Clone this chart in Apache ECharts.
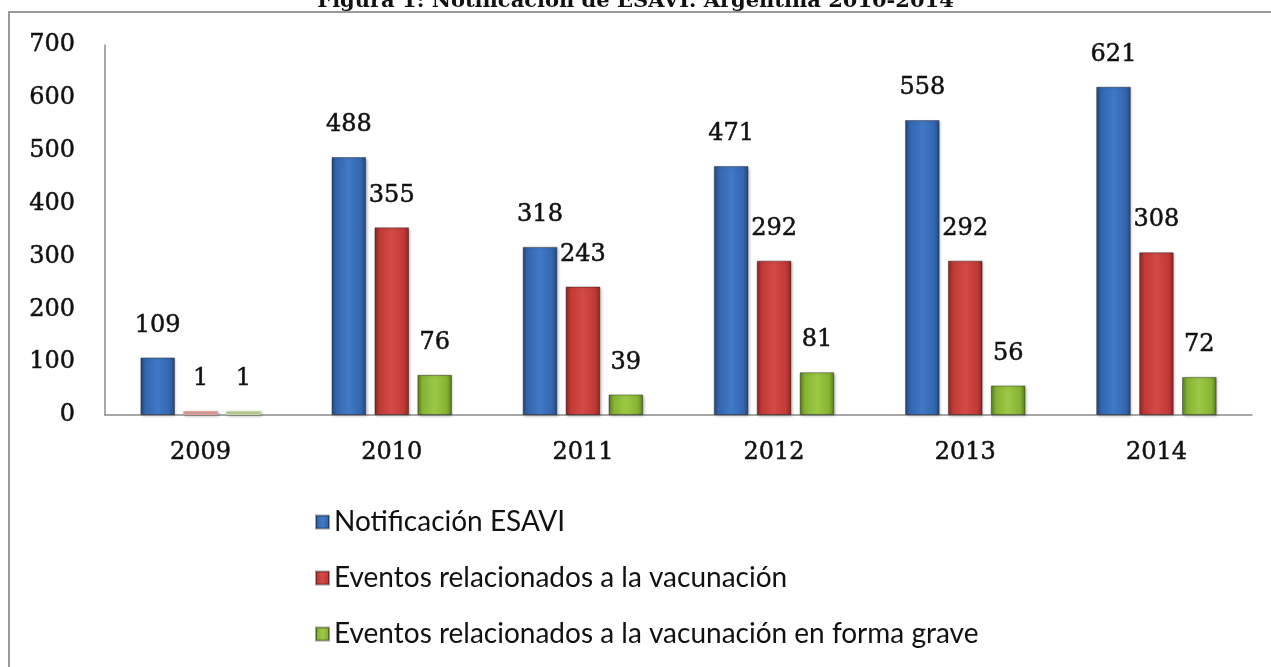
<!DOCTYPE html>
<html>
<head>
<meta charset="utf-8">
<script src="https://cdn.jsdelivr.net/npm/echarts@6/dist/echarts.min.js"></script>
<style>
  html, body { margin: 0; padding: 0; background: #fff; }
  #chart { width: 1271px; height: 667px; }
</style>
</head>
<body>
<div id="chart"></div>
<script>
// datos
const years = ['2009', '2010', '2011', '2012', '2013', '2014']
const notificacion = [109, 488, 318, 471, 558, 621]
const relacionados = [1, 355, 243, 292, 292, 308]
const graves = [1, 76, 39, 81, 56, 72]
const yTicks = [0, 100, 200, 300, 400, 500, 600, 700]

const serif = '"DejaVu Serif", serif'
// texto un poco mas grueso, como en el original
const serifText = {
  fontFamily: serif,
  fontSize: 24,
  color: '#111',
  textBorderColor: '#111',
  textBorderWidth: 0.5
}

// degradado tipo bisel de Excel
function bevel (dark, mid, light) {
  return new echarts.graphic.LinearGradient(0, 0, 1, 0, [
    { offset: 0, color: dark },
    { offset: 0.15, color: mid },
    { offset: 0.5, color: light },
    { offset: 0.85, color: mid },
    { offset: 1, color: dark }
  ])
}

const colors = [
  { main: '#3a6fb8', fill: bevel('#24497e', '#3466ae', '#4079c6'), faded: '#9db7dc' },
  { main: '#c83c38', fill: bevel('#8a2523', '#c03a36', '#d44a45'), faded: '#e3a5a3' },
  { main: '#8cb83a', fill: bevel('#5a7a1f', '#86b233', '#9cc945'), faded: '#c4d9a2' }
]

function makeSeries (name, values, c) {
  return {
    name: name,
    type: 'bar',
    barMinHeight: 4,
    data: values.map(v => v < 5
      ? { value: v, itemStyle: { color: c.faded, borderColor: c.faded } }
      : v),
    itemStyle: {
      color: c.fill,
      borderColor: 'rgba(0,0,0,0.35)',
      borderWidth: 1,
      shadowColor: 'rgba(0,0,0,0.3)',
      shadowBlur: 3,
      shadowOffsetX: 1,
      shadowOffsetY: 1
    },
    label: Object.assign({
      show: true,
      position: 'top',
      distance: 20
    }, serifText)
  }
}

const chart = echarts.init(document.getElementById('chart'))
chart.setOption({
  animation: false,
  color: colors.map(c => c.main),
  title: {
    text: 'Figura 1: Notificación de ESAVI. Argentina 2010-2014',
    left: 'center',
    top: -14,
    textStyle: { fontFamily: serif, fontSize: 21, fontWeight: 'bold', color: '#111' }
  },
  graphic: [{
    type: 'rect',
    shape: { x: 9, y: 12, width: 1300, height: 700 },
    style: { fill: 'none', stroke: '#9a9a9a', lineWidth: 2 },
    silent: true
  }],
  grid: { left: 105, right: 19, top: 45, bottom: 252 },
  legend: {
    orient: 'vertical',
    left: 310,
    top: 503,
    icon: 'rect',
    itemWidth: 13,
    itemHeight: 13,
    itemGap: 28,
    textStyle: { fontFamily: 'Lato, sans-serif', fontSize: 28, lineHeight: 28, color: '#111' }
  },
  xAxis: {
    type: 'category',
    data: years,
    axisLine: { lineStyle: { color: '#8c8c8c', width: 1.5 } },
    axisTick: { show: false },
    axisLabel: Object.assign({ margin: 26 }, serifText)
  },
  yAxis: {
    type: 'value',
    min: yTicks[0],
    max: yTicks[yTicks.length - 1],
    interval: 100,
    axisLine: { show: true, lineStyle: { color: '#8c8c8c', width: 1.5 } },
    axisTick: { show: false },
    splitLine: { show: false },
    axisLabel: Object.assign({ margin: 30 }, serifText)
  },
  series: [
    Object.assign(makeSeries('Notificación ESAVI', notificacion, colors[0]), { barGap: '24%', barCategoryGap: '37%' }),
    makeSeries('Eventos relacionados a la vacunación', relacionados, colors[1]),
    makeSeries('Eventos relacionados a la vacunación en forma grave', graves, colors[2])
  ]
})
</script>
</body>
</html>
